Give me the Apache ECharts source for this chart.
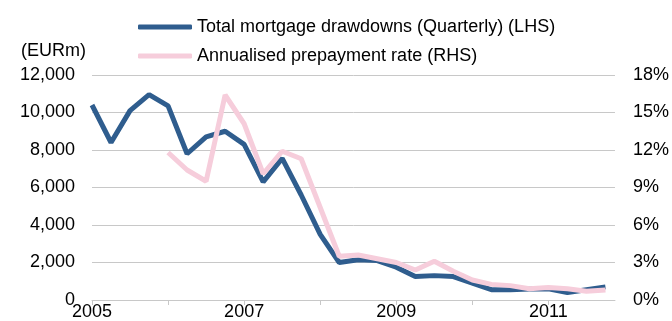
<!DOCTYPE html>
<html>
<head>
<meta charset="utf-8">
<script src="https://cdn.jsdelivr.net/npm/echarts@6/dist/echarts.min.js"></script>
<style>html,body{margin:0;padding:0;background:#fff}#c{width:672px;height:321px}</style>
</head>
<body>
<div id="c"></div>
<script>
// Quarter index 0 = 2005 Q1 ... 27 = 2011 Q4
const quarters = [0,1,2,3,4,5,6,7,8,9,10,11,12,13,14,15,16,17,18,19,20,21,22,23,24,25,26,27];
const drawdowns = [10400,8400,10100,10950,10350,7800,8700,9000,8300,6300,7550,5600,3500,2000,2150,2100,1750,1250,1300,1250,900,550,550,580,600,400,550,700];
const prepayment = [null,null,null,null,11.8,10.4,9.5,16.4,14.1,10.1,11.9,11.3,7.4,3.5,3.6,3.3,3.0,2.4,3.1,2.3,1.6,1.25,1.15,0.9,1.0,0.9,0.7,0.8];
const yearTicks = [0,4,8,12,16,20,24];
const yearLabels = [0,8,16,24];

const font = 'Liberation Sans, Arial, sans-serif';
const chart = echarts.init(document.getElementById('c'));
chart.setOption({
  animation: false,
  textStyle: {fontFamily: font},
  grid: {left: 92, right: 57, top: 75, bottom: 21},
  legend: {
    orient: 'vertical', left: 133, top: 13, itemWidth: 54, itemHeight: 5, itemGap: 11,
    icon: 'roundRect',
    textStyle: {fontSize: 18, color: '#000', fontFamily: font},
    data: ['Total mortgage drawdowns (Quarterly) (LHS)', 'Annualised prepayment rate (RHS)']
  },
  graphic: [{type: 'text', left: 21, top: 42, style: {text: '(EURm)', fontSize: 18, fill: '#000', fontFamily: font}}],
  xAxis: {
    type: 'value', min: 0, max: 27.5,
    axisLine: {lineStyle: {color: '#c8c8c8'}},
    axisTick: {customValues: yearTicks, length: 5, lineStyle: {color: '#c8c8c8'}},
    axisLabel: {customValues: yearLabels, formatter: v => String(2005 + v / 4), fontSize: 18, color: '#000', margin: 3, fontFamily: font},
    splitLine: {show: false}
  },
  yAxis: [{
    type: 'value', min: 0, max: 12000, interval: 2000,
    axisLine: {show: false}, axisTick: {show: false},
    axisLabel: {formatter: v => v.toLocaleString('en-US'), fontSize: 18, color: '#000', margin: 17, fontFamily: font},
    splitLine: {lineStyle: {color: '#c8c8c8'}}
  }, {
    type: 'value', min: 0, max: 18, interval: 3,
    axisLine: {show: false}, axisTick: {show: false},
    axisLabel: {formatter: v => v + '%', fontSize: 18, color: '#000', margin: 18, fontFamily: font},
    splitLine: {show: false}
  }],
  series: [{
    name: 'Total mortgage drawdowns (Quarterly) (LHS)', type: 'line', yAxisIndex: 0,
    data: quarters.map((q, i) => [q, drawdowns[i]]),
    showSymbol: false, symbol: 'none',
    lineStyle: {width: 5, color: '#2f5d8e'}, itemStyle: {color: '#2f5d8e'}
  }, {
    name: 'Annualised prepayment rate (RHS)', type: 'line', yAxisIndex: 1,
    data: quarters.map((q, i) => [q, prepayment[i]]),
    showSymbol: false, symbol: 'none', connectNulls: false,
    lineStyle: {width: 5, color: '#f6cddb'}, itemStyle: {color: '#f6cddb'}
  }]
});
</script>
</body>
</html>
